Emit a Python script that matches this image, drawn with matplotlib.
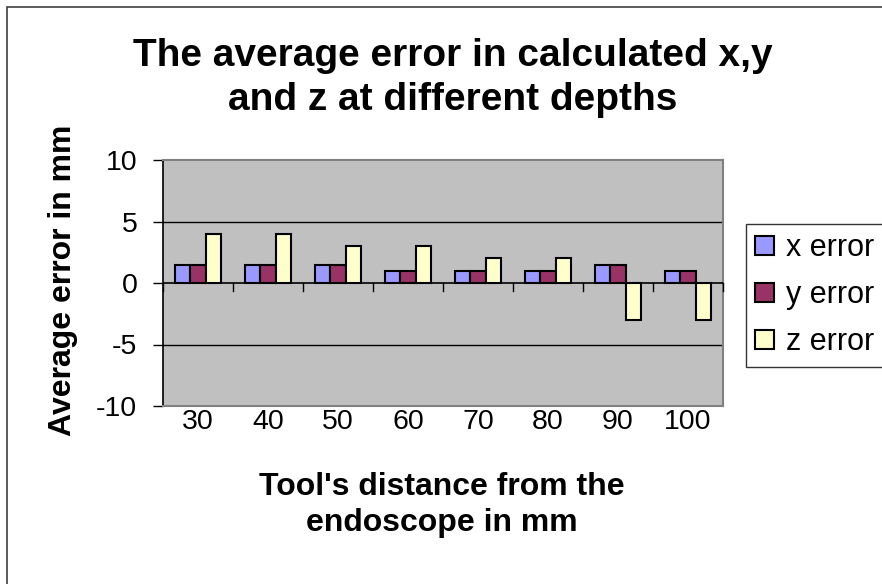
import matplotlib
matplotlib.use('Agg')
import matplotlib.pyplot as plt
import numpy as np
from matplotlib.patches import Rectangle

plt.rcParams['font.family'] = ['Liberation Sans', 'DejaVu Sans']

# dane
depths = ['30', '40', '50', '60', '70', '80', '90', '100']
x_err = [1.5, 1.5, 1.5, 1, 1, 1, 1.5, 1]
y_err = [1.5, 1.5, 1.5, 1, 1, 1, 1.5, 1]
z_err = [4, 4, 3, 3, 2, 2, -3, -3]
names = ['x error', 'y error', 'z error']
colors = ['#9999FF', '#993366', '#FFFFCC']

fig = plt.figure(figsize=(8.82, 5.84), dpi=100)
# ramka wykresu
fig.patches.append(Rectangle((7/882, -0.1), 1.2, 1 - 7/584 + 0.1, transform=fig.transFigure,
                             fill=False, edgecolor='#404040', linewidth=1.2))

ax = fig.add_axes([163/882, 1 - 406/584, 560/882, 246/584])
ax.set_facecolor('#C0C0C0')

idx = np.arange(len(depths))
w = 1 / 4.5
for k, (vals, c, n) in enumerate(zip([x_err, y_err, z_err], colors, names)):
    ax.bar(idx - w + k * w, vals, width=w, color=c, edgecolor='black', linewidth=1.5, label=n, zorder=3)

ax.set_xlim(-0.5, len(depths) - 0.5)
ax.set_ylim(-10, 10)
ax.set_yticks([-10, -5, 0, 5, 10])
ax.set_yticklabels(['-10', '-5', '0', '5', '10'])
for yv in [-5, 5]:
    ax.axhline(yv, color='black', linewidth=1, zorder=1)

# os x w zerze
ax.axhline(0, color='black', linewidth=1.2, zorder=4)
for b in np.arange(0.5, len(depths) - 0.5 + 1e-9, 1):
    ax.plot([b, b], [0, -0.65], color='black', linewidth=1, zorder=4, clip_on=False)
ax.plot([-0.5, -0.5], [0, -0.65], color='black', linewidth=1, zorder=4, clip_on=False)

ax.set_xticks(idx)
ax.set_xticklabels(depths)
ax.tick_params(axis='x', length=0, pad=2, labelsize=20.5)
ax.tick_params(axis='y', length=7.5, width=1, labelsize=20.5, pad=11)

for s in ['top', 'right', 'bottom']:
    ax.spines[s].set_color('#808080')
    ax.spines[s].set_linewidth(1.5)
ax.spines['left'].set_color('black')
ax.spines['left'].set_linewidth(1.2)

fig.text(453/882, 1 - 78/584, 'The average error in calculated x,y\nand z at different depths',
         ha='center', va='center', fontsize=28, fontweight='bold', linespacing=1.3)
fig.text(442/882, 1 - 505/584, "Tool's distance from the\nendoscope in mm",
         ha='center', va='center', fontsize=23, fontweight='bold', linespacing=1.3)
fig.text(63/882, 1 - 280/584, 'Average error in mm', rotation=90,
         ha='center', va='center', fontsize=23, fontweight='bold')

leg = fig.legend(loc='upper left', bbox_to_anchor=(746/882, 1 - 224/584), fontsize=22,
                 frameon=True, fancybox=False, edgecolor='black', handlelength=0.6, handleheight=0.6,
                 handletextpad=0.4, labelspacing=0.56, borderpad=0.3, borderaxespad=0)
leg.get_frame().set_linewidth(1)

fig.savefig('out.png', dpi=100)
